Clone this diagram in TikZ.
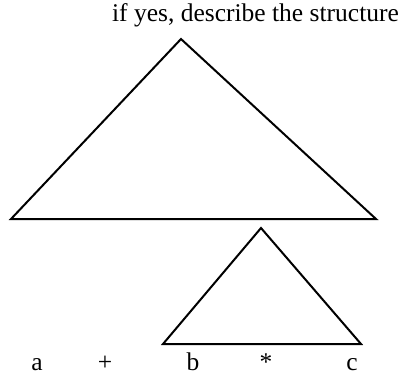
\documentclass[tikz,border=0pt]{standalone}
\usepackage{fontspec}
\setmainfont{Liberation Serif}
\begin{document}
\begin{tikzpicture}[x=1pt,y=-1pt,
  tri/.style={draw=black,line width=2pt,line join=miter},
  lbl/.style={inner sep=0pt,anchor=base,font=\fontsize{25.5}{28}\selectfont}]
\useasboundingbox (0,0) rectangle (412,375);
\node[lbl] (title) at (255.5,21) {if yes, describe the structure};
\coordinate (A1) at (181,39);
\coordinate (B1) at (11,219);
\coordinate (C1) at (376,219);
\draw[tri] (A1) -- (B1) -- (C1) -- cycle;
\coordinate (A2) at (261,228);
\coordinate (B2) at (163,344);
\coordinate (C2) at (361,344);
\draw[tri] (A2) -- (B2) -- (C2) -- cycle;
\node[lbl] (a) at (37,370) {a};
\node[lbl] (plus) at (105,370) {+};
\node[lbl] (b) at (193,370) {b};
\node[lbl] (star) at (266,370) {*};
\node[lbl] (c) at (352,370) {c};
\end{tikzpicture}
\end{document}
